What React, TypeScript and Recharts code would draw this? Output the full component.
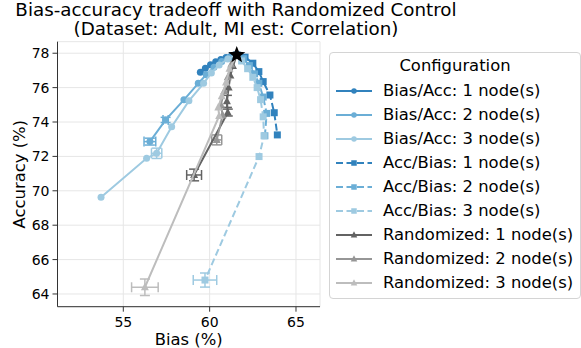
import {
  CartesianGrid,
  ErrorBar,
  Label,
  Scatter,
  ScatterChart,
  XAxis,
  YAxis,
} from "recharts";

type Pt = { x: number; y: number; ex?: number; ey?: number };

const FONT = "'DejaVu Sans', sans-serif";

// shared starting point (no control)
const baseline: Pt[] = [{ x: 61.57, y: 77.9 }];

const biasAcc1: Pt[] = [
  { x: 61.57, y: 77.9 },
  { x: 61.25, y: 77.84 },
  { x: 60.95, y: 77.75 },
  { x: 60.65, y: 77.63 },
  { x: 60.35, y: 77.5 },
  { x: 60.05, y: 77.33 },
  { x: 59.75, y: 77.12 },
  { x: 59.46, y: 76.9 },
];

const biasAcc2: Pt[] = [
  { x: 61.57, y: 77.9 },
  { x: 61.15, y: 77.74 },
  { x: 60.7, y: 77.52 },
  { x: 60.25, y: 77.18 },
  { x: 59.8, y: 76.75 },
  { x: 59.34, y: 76.25 },
  { x: 58.51, y: 75.29 },
  { x: 57.45, y: 74.12, ex: 0.15, ey: 0.15 },
  { x: 56.54, y: 72.86, ex: 0.34, ey: 0.2 },
];

const biasAcc3: Pt[] = [
  { x: 61.57, y: 77.9 },
  { x: 61.05, y: 77.66 },
  { x: 60.55, y: 77.32 },
  { x: 60.1, y: 76.85 },
  { x: 59.65, y: 76.25 },
  { x: 58.8, y: 75.23 },
  { x: 57.8, y: 73.73 },
  { x: 56.93, y: 72.18, ex: 0.3, ey: 0.3 },
  { x: 56.35, y: 71.89 },
  { x: 53.71, y: 69.62 },
];

const accBias1: Pt[] = [
  { x: 61.57, y: 77.9 },
  { x: 62.05, y: 77.77 },
  { x: 62.5, y: 77.42 },
  { x: 62.85, y: 76.93 },
  { x: 63.1, y: 76.35 },
  { x: 63.49, y: 75.57 },
  { x: 63.74, y: 74.54 },
  { x: 63.92, y: 73.25 },
];

const accBias2: Pt[] = [
  { x: 61.57, y: 77.9 },
  { x: 61.95, y: 77.68 },
  { x: 62.3, y: 77.28 },
  { x: 62.6, y: 76.8 },
  { x: 62.85, y: 76.25 },
  { x: 63.1, y: 75.45 },
  { x: 63.3, y: 74.5 },
  { x: 63.2, y: 73.2 },
];

const accBias3: Pt[] = [
  { x: 61.57, y: 77.9 },
  { x: 61.85, y: 77.55 },
  { x: 62.2, y: 77.1 },
  { x: 62.5, y: 76.6 },
  { x: 62.75, y: 76.0 },
  { x: 62.95, y: 75.3 },
  { x: 63.1, y: 74.3 },
  { x: 63.15, y: 73.2 },
  { x: 62.86, y: 71.99 },
  { x: 59.73, y: 64.81, ex: 0.68, ey: 0.41 },
];

const random1: Pt[] = [
  { x: 61.57, y: 77.9 },
  { x: 61.35, y: 77.25 },
  { x: 61.2, y: 76.7 },
  { x: 61.1, y: 76.0 },
  { x: 61.0, y: 75.2, ey: 0.35 },
  { x: 61.05, y: 74.55, ey: 0.2 },
  { x: 59.1, y: 70.92, ex: 0.43, ey: 0.34 },
];

const random2: Pt[] = [
  { x: 61.57, y: 77.9 },
  { x: 61.25, y: 77.35 },
  { x: 61.05, y: 76.6 },
  { x: 60.85, y: 75.8 },
  { x: 60.65, y: 75.0 },
  { x: 60.75, y: 74.4 },
  { x: 60.41, y: 72.96, ex: 0.29, ey: 0.29 },
];

const random3: Pt[] = [
  { x: 61.57, y: 77.9 },
  { x: 61.15, y: 77.1 },
  { x: 60.95, y: 76.3 },
  { x: 60.7, y: 75.5 },
  { x: 60.5, y: 74.85 },
  { x: 60.55, y: 74.35 },
  { x: 56.25, y: 64.39, ex: 0.77, ey: 0.48 },
];

const xTicks = [55, 60, 65];
const yTicks = [64, 66, 68, 70, 72, 74, 76, 78];
const xDomain: [number, number] = [51.19, 66.39];
const yDomain: [number, number] = [63.26, 78.67];

type Marker = "circle" | "square" | "triangle";

type Series = {
  name: string;
  data: Pt[];
  color: string;
  marker: Marker;
  dashed: boolean;
};

const series: Series[] = [
  { name: "Bias/Acc: 1 node(s)", data: biasAcc1, color: "#3182bd", marker: "circle", dashed: false },
  { name: "Bias/Acc: 2 node(s)", data: biasAcc2, color: "#6baed6", marker: "circle", dashed: false },
  { name: "Bias/Acc: 3 node(s)", data: biasAcc3, color: "#9ecae1", marker: "circle", dashed: false },
  { name: "Acc/Bias: 1 node(s)", data: accBias1, color: "#3182bd", marker: "square", dashed: true },
  { name: "Acc/Bias: 2 node(s)", data: accBias2, color: "#6baed6", marker: "square", dashed: true },
  { name: "Acc/Bias: 3 node(s)", data: accBias3, color: "#9ecae1", marker: "square", dashed: true },
  { name: "Randomized: 1 node(s)", data: random1, color: "#636363", marker: "triangle", dashed: false },
  { name: "Randomized: 2 node(s)", data: random2, color: "#969696", marker: "triangle", dashed: false },
  { name: "Randomized: 3 node(s)", data: random3, color: "#bdbdbd", marker: "triangle", dashed: false },
];

function drawMarker(kind: Marker, cx: number, cy: number, size: number, color: string) {
  const h = size / 2;
  if (kind === "circle") return <circle cx={cx} cy={cy} r={h} fill={color} />;
  if (kind === "square")
    return <rect x={cx - h} y={cy - h} width={size} height={size} fill={color} />;
  const pts = `${cx},${cy - h * 1.15} ${cx - h},${cy + h * 0.75} ${cx + h},${cy + h * 0.75}`;
  return <polygon points={pts} fill={color} />;
}

const markerShape = (kind: Marker, color: string) => (props: any) => {
  if (props.cx == null || props.cy == null) return <g />;
  const size = kind === "triangle" ? 8 : 7;
  return drawMarker(kind, props.cx, props.cy, size, color);
};

const starShape = (props: any) => {
  if (props.cx == null || props.cy == null) return <g />;
  const outer = 9;
  const inner = 3.8;
  const pts: string[] = [];
  for (let i = 0; i < 10; i++) {
    const r = i % 2 === 0 ? outer : inner;
    const a = -Math.PI / 2 + (i * Math.PI) / 5;
    pts.push(`${props.cx + r * Math.cos(a)},${props.cy + r * Math.sin(a)}`);
  }
  return <polygon points={pts.join(" ")} fill="#000" />;
};

function ChartLegend() {
  return (
    <div
      style={{
        position: "absolute",
        left: 329,
        top: 52,
        width: 250,
        height: 245,
        border: "1px solid #d4d4d4",
        borderRadius: 4,
        background: "rgba(255,255,255,0.85)",
        fontFamily: FONT,
        fontSize: 16.4,
        color: "#000",
      }}
    >
      <div
        style={{
          position: "absolute",
          top: 2,
          left: 0,
          width: "100%",
          textAlign: "center",
          lineHeight: "22px",
        }}
      >
        Configuration
      </div>
      {series.map((s, i) => (
        <div
          key={s.name}
          style={{
            position: "absolute",
            left: 4,
            top: 26 + i * 24.04,
            height: 24,
            display: "flex",
            alignItems: "center",
            whiteSpace: "nowrap",
          }}
        >
          <svg width={40} height={24} style={{ display: "block" }}>
            <line
              x1={2}
              x2={38}
              y1={12}
              y2={12}
              stroke={s.color}
              strokeWidth={2}
              strokeDasharray={s.dashed ? "7 3.5" : undefined}
            />
            {drawMarker(s.marker, 20, 12, s.marker === "triangle" ? 6.5 : 5.5, s.color)}
          </svg>
          <span style={{ marginLeft: 9, lineHeight: "24px" }}>{s.name}</span>
        </div>
      ))}
    </div>
  );
}

export default function App() {
  const titleLine = {
    position: "absolute" as const,
    left: 0,
    width: 472,
    textAlign: "center" as const,
    fontSize: 18.3,
    lineHeight: "18px",
    height: 18,
    color: "#000",
    whiteSpace: "nowrap" as const,
  };
  return (
    <div
      style={{
        position: "absolute",
        left: 0,
        top: 0,
        width: 581,
        height: 348,
        background: "#fff",
        fontFamily: FONT,
      }}
    >
      <div style={{ ...titleLine, top: 1 }}>Bias-accuracy tradeoff with Randomized Control</div>
      <div style={{ ...titleLine, top: 20 }}>(Dataset: Adult, MI est: Correlation)</div>

      <ScatterChart
        width={581}
        height={348}
        margin={{ top: 41.7, right: 261, bottom: 0, left: 0 }}
      >
        <CartesianGrid stroke="#e6e6e6" strokeWidth={1} />
        <XAxis
          type="number"
          dataKey="x"
          domain={xDomain}
          ticks={xTicks}
          allowDataOverflow
          height={41.3}
          tickSize={5}
          tickMargin={5}
          tick={{ fontSize: 14, fill: "#000", fontFamily: FONT }}
          tickLine={{ stroke: "#333" }}
          axisLine={{ stroke: "#333" }}
        >
          <Label
            value="Bias (%)"
            position="insideBottom"
            offset={3}
            style={{ fontSize: 16.4, fill: "#000", fontFamily: FONT }}
          />
        </XAxis>
        <YAxis
          type="number"
          dataKey="y"
          domain={yDomain}
          ticks={yTicks}
          allowDataOverflow
          width={57.5}
          tickSize={5}
          tickMargin={3}
          tick={{ fontSize: 14, fill: "#000", fontFamily: FONT }}
          tickLine={{ stroke: "#333" }}
          axisLine={{ stroke: "#333" }}
        >
          <Label
            content={(props: any) => {
              const vb = props.viewBox || {};
              const cx = (vb.x ?? 0) + 20;
              const cy = (vb.y ?? 0) + (vb.height ?? 0) / 2;
              return (
                <text
                  x={cx}
                  y={cy}
                  transform={`rotate(-90, ${cx}, ${cy})`}
                  textAnchor="middle"
                  dominantBaseline="central"
                  style={{ fontSize: 16.4, fill: "#000", fontFamily: FONT }}
                >
                  Accuracy (%)
                </text>
              );
            }}
          />
        </YAxis>
        <XAxis
          xAxisId="top"
          orientation="top"
          type="number"
          domain={xDomain}
          allowDataOverflow
          height={0}
          tick={false}
          tickLine={false}
          axisLine={{ stroke: "#333" }}
        />
        <YAxis
          yAxisId="right"
          orientation="right"
          type="number"
          domain={yDomain}
          allowDataOverflow
          width={0}
          tick={false}
          tickLine={false}
          axisLine={{ stroke: "#333" }}
        />

        {series.map((s) => (
          <Scatter
            key={s.name}
            name={s.name}
            data={s.data}
            fill={s.color}
            shape={markerShape(s.marker, s.color)}
            line={{
              stroke: s.color,
              strokeWidth: 2,
              strokeDasharray: s.dashed ? "7 3.5" : undefined,
            }}
            lineType="joint"
            isAnimationActive={false}
          >
            <ErrorBar dataKey="ex" direction="x" width={5} stroke={s.color} strokeWidth={1.5} />
            <ErrorBar dataKey="ey" direction="y" width={5} stroke={s.color} strokeWidth={1.5} />
          </Scatter>
        ))}

        <Scatter
          name="baseline"
          data={baseline}
          fill="#000"
          shape={starShape}
          isAnimationActive={false}
        />
      </ScatterChart>

      <ChartLegend />
    </div>
  );
}
